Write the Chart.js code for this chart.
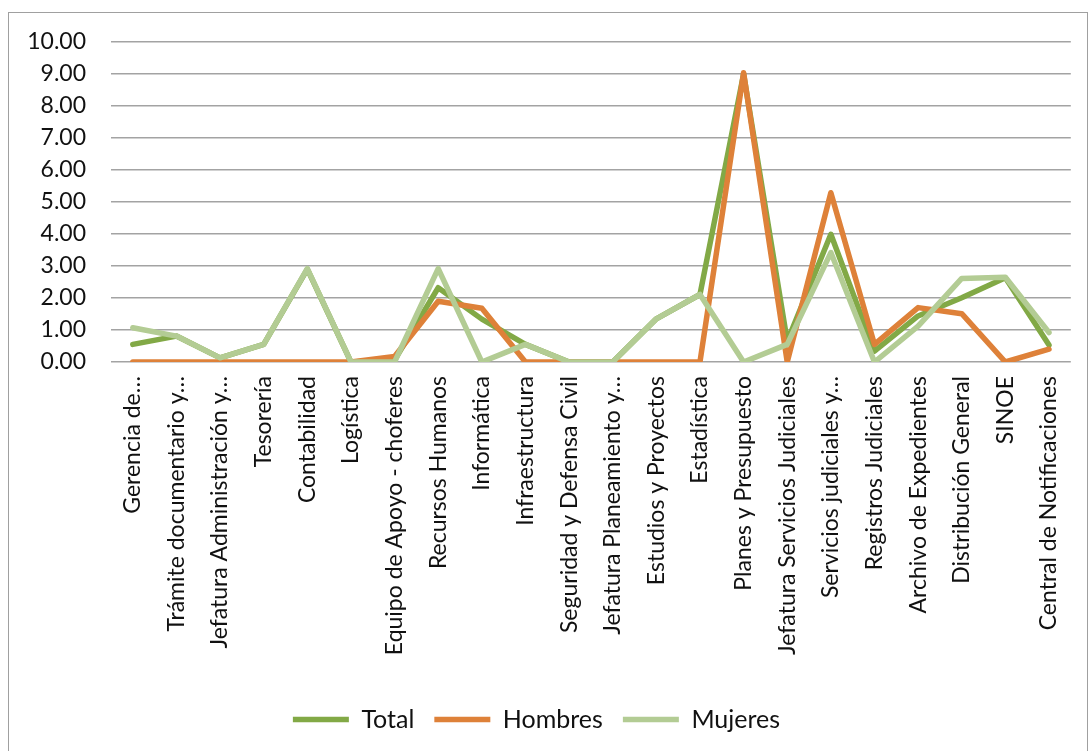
<!DOCTYPE html>
<html>
<head>
<meta charset="utf-8">
<script src="https://cdn.jsdelivr.net/npm/chart.js@4"></script>
<style>
  body { margin: 0; background: #fff; }
  #frame { position: absolute; left: 8px; top: 12px; width: 1078px; height: 745px; border: 1.5px solid #a0a0a0; }
  #chart { position: absolute; left: 0; top: 0; }
</style>
</head>
<body>
<div id="frame"></div>
<canvas id="chart" width="1091" height="751"></canvas>
<script>
const categories = [
  'Gerencia de…', 'Trámite documentario y…', 'Jefatura Administración y…', 'Tesorería',
  'Contabilidad', 'Logística', 'Equipo de Apoyo - choferes', 'Recursos Humanos',
  'Informática', 'Infraestructura', 'Seguridad y Defensa Civil', 'Jefatura Planeamiento y…',
  'Estudios y Proyectos', 'Estadística', 'Planes y Presupuesto', 'Jefatura Servicios Judiciales',
  'Servicios judiciales y…', 'Registros Judiciales', 'Archivo de Expedientes', 'Distribución General',
  'SINOE', 'Central de Notificaciones'
];
const total   = [0.55, 0.81, 0.13, 0.55, 2.90, 0, 0.06, 2.32, 1.34, 0.55, 0, 0, 1.35, 2.11, 9.00, 0.65, 3.99, 0.34, 1.44, 2.01, 2.63, 0.53];
const hombres = [0, 0, 0, 0, 0, 0, 0.17, 1.90, 1.68, 0, 0, 0, 0, 0, 9.04, 0, 5.29, 0.55, 1.70, 1.51, 0, 0.40];
const mujeres = [1.07, 0.81, 0.13, 0.55, 2.92, 0, 0, 2.92, 0, 0.55, 0, 0, 1.35, 2.11, 0, 0.55, 3.42, 0, 1.12, 2.61, 2.65, 0.92];
const yTicks = [0, 1, 2, 3, 4, 5, 6, 7, 8, 9, 10];

const FONT = 'Lato, "Open Sans", sans-serif';

function serie(label, data, color, order) {
  return {
    label: label, data: data, borderColor: color, backgroundColor: color,
    borderWidth: 5.5, tension: 0, pointRadius: 0, pointHoverRadius: 0,
    pointStyle: 'line', borderJoinStyle: 'round', borderCapStyle: 'round', order: order
  };
}

new Chart(document.getElementById('chart').getContext('2d'), {
  type: 'line',
  data: {
    labels: categories,
    datasets: [
      serie('Total', total, '#82a946', 3),
      serie('Hombres', hombres, '#de8139', 2),
      serie('Mujeres', mujeres, '#b3cc94', 1)
    ]
  },
  options: {
    responsive: false,
    animation: false,
    layout: { padding: { left: 0, right: 18, top: 42, bottom: 9 } },
    plugins: {
      tooltip: { enabled: false },
      legend: {
        position: 'bottom',
        labels: {
          usePointStyle: true,
          pointStyleWidth: 56,
          boxHeight: 5,
          padding: 20,
          color: '#111',
          font: { family: FONT, size: 25 },
          sort: (a, b) => a.datasetIndex - b.datasetIndex
        }
      }
    },
    scales: {
      x: {
        offset: true,
        grid: { display: false, drawTicks: false },
        border: { display: false },
        ticks: {
          autoSkip: false, minRotation: 90, maxRotation: 90, padding: 14,
          color: '#111', font: { family: FONT, size: 23 }
        },
        afterFit: s => { s.height = 325; }
      },
      y: {
        min: 0, max: 10,
        afterBuildTicks: s => { s.ticks = yTicks.map(v => ({ value: v })); },
        grid: { color: '#a3a3a3', lineWidth: 1.5, drawTicks: false },
        border: { display: false },
        ticks: {
          autoSkip: false, padding: 25, color: '#111', font: { family: FONT, size: 23 },
          callback: v => v.toFixed(2)
        },
        afterFit: s => { s.width = 111; }
      }
    }
  }
});
</script>
</body>
</html>
